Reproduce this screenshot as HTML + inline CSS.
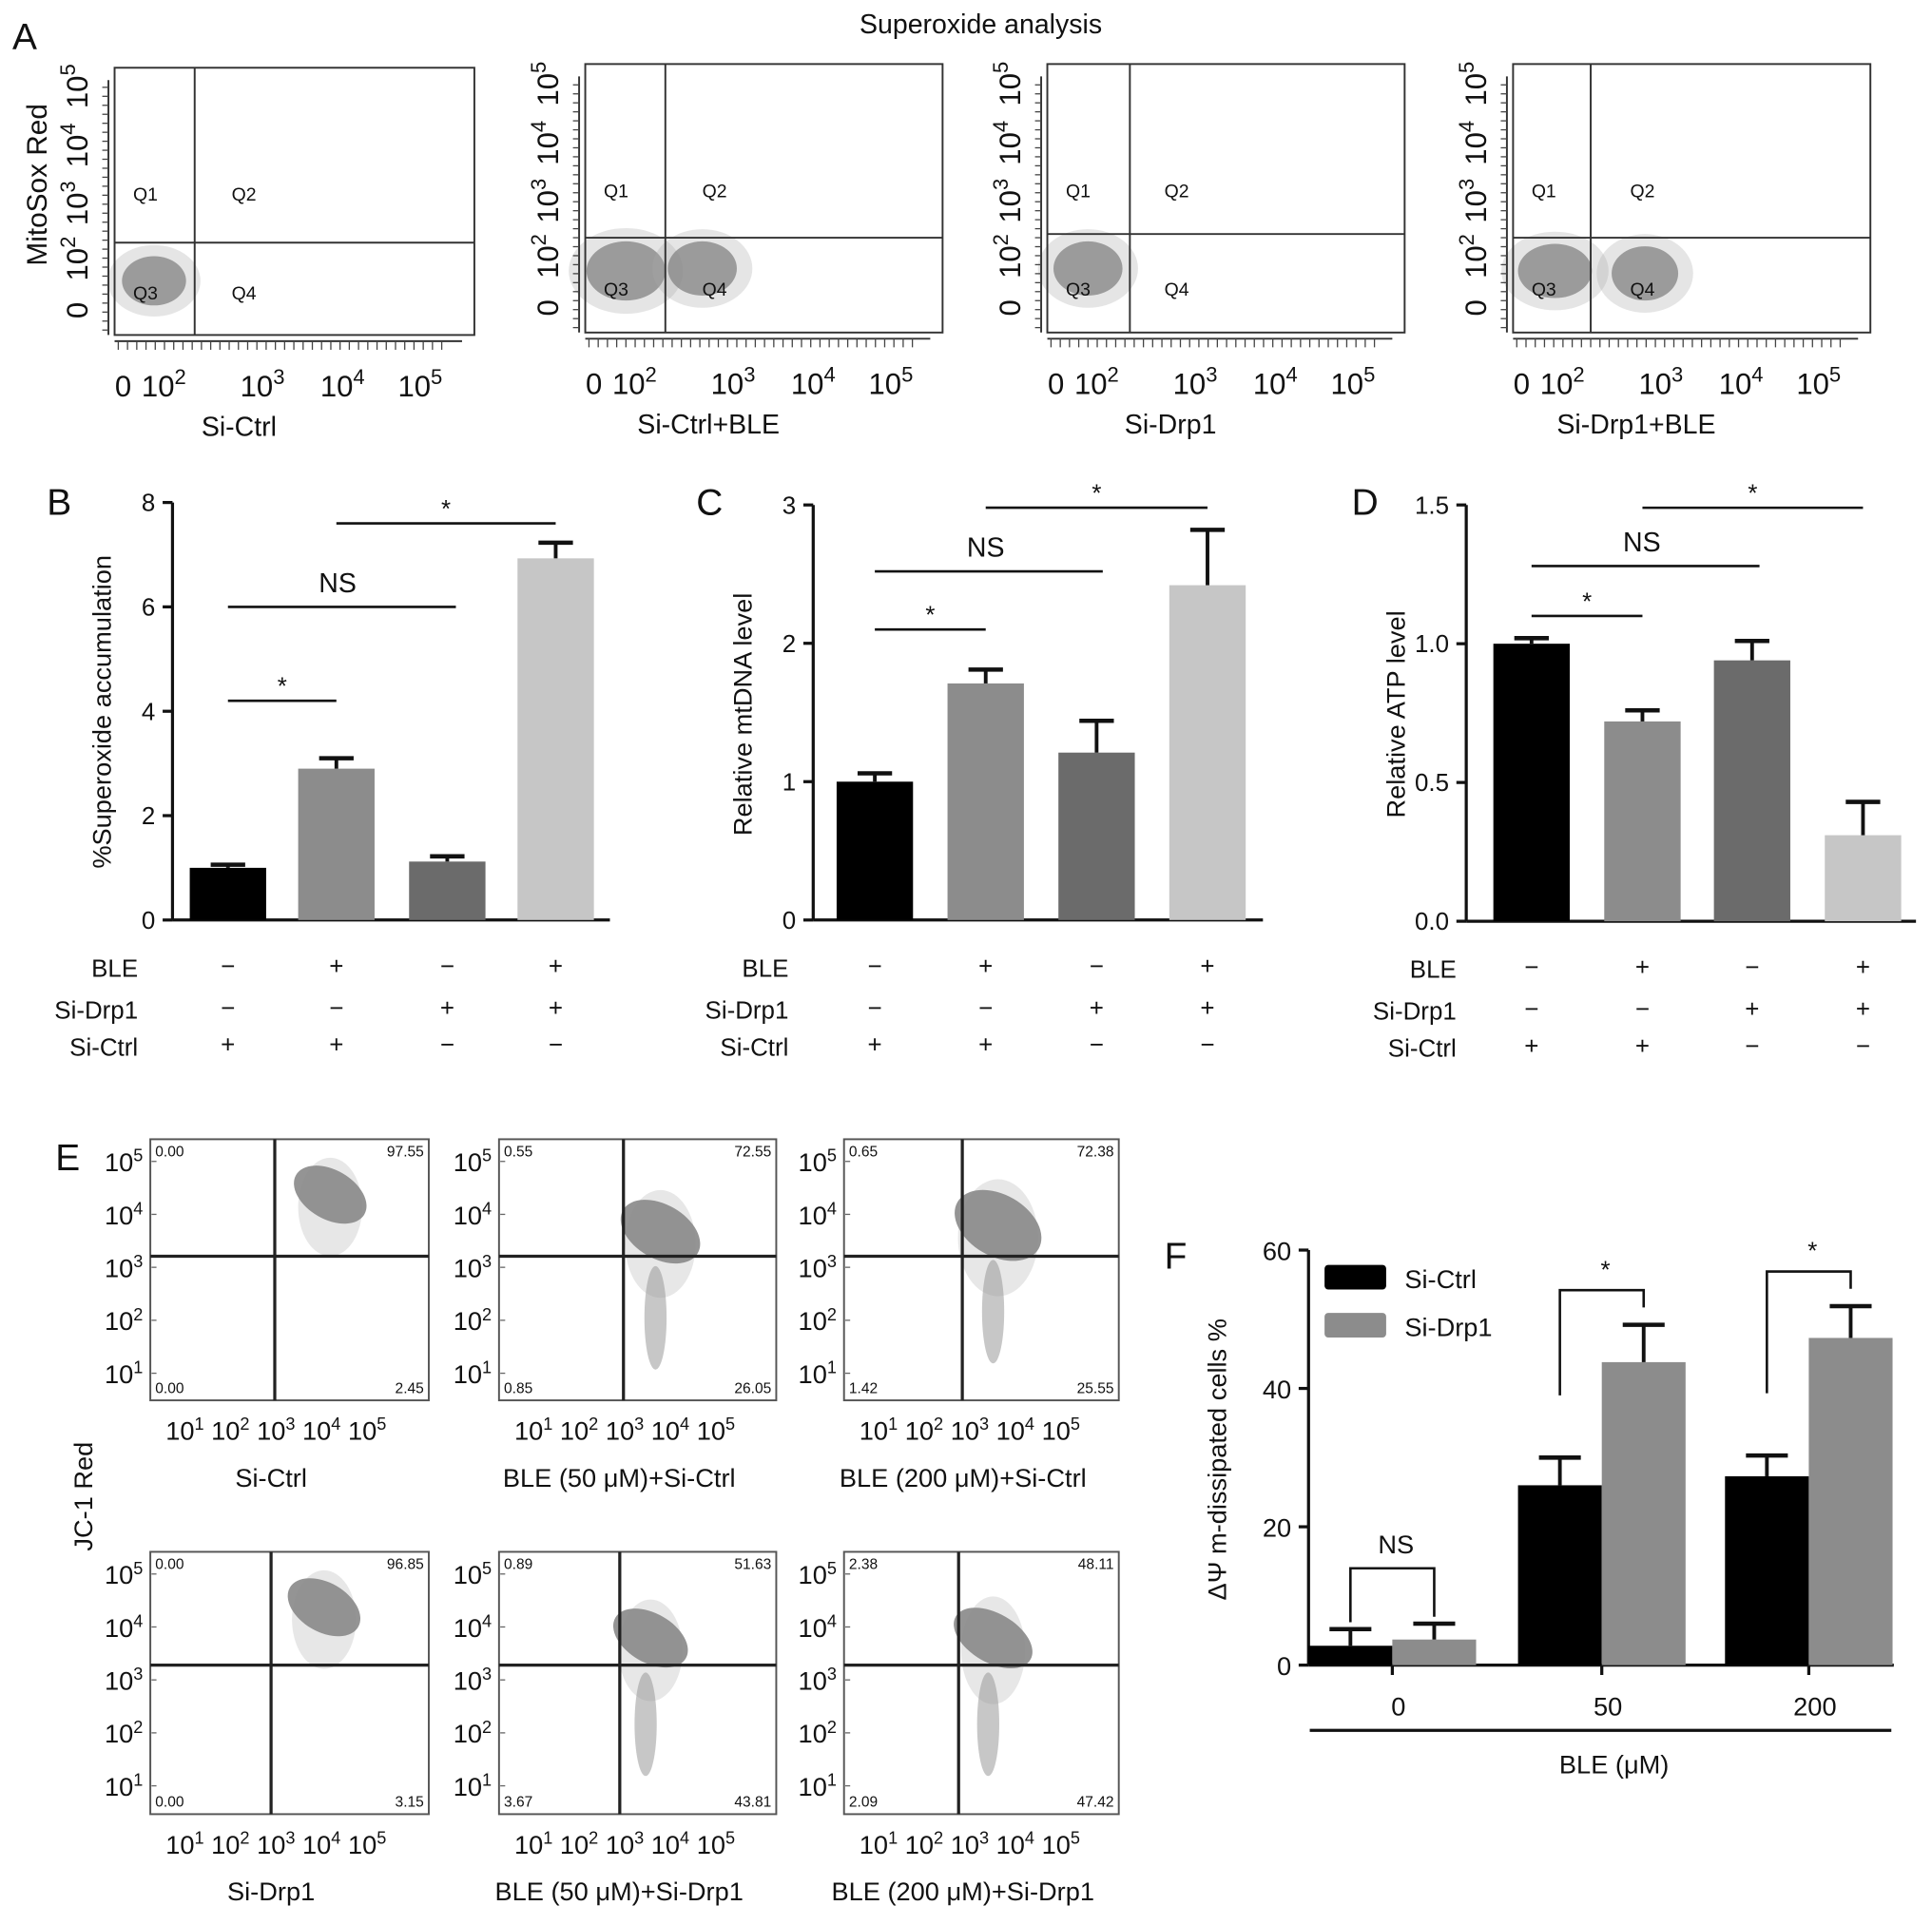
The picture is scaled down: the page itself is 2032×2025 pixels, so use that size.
<!DOCTYPE html>
<html><head><meta charset="utf-8"><style>
html,body{margin:0;padding:0;background:#fff}
svg{display:block}
text{font-family:"Liberation Sans",sans-serif;fill:#111}
</style></head><body>
<svg id="fig" width="2032" height="2025" viewBox="0 0 1568 1563" preserveAspectRatio="none" xmlns="http://www.w3.org/2000/svg">
<g id="root"></g>
</svg>
<script>
// ---------- Data ----------
const barLabelsBCD = ["Si-Ctrl","Si-Ctrl+BLE","Si-Drp1","Si-Drp1+BLE"];
const superoxideVals = [1.0, 2.9, 1.12, 6.93];
const superoxideErr = [0.06, 0.2, 0.1, 0.3];
const superoxideTicks = [0,2,4,6,8];
const mtdnaVals = [1.0, 1.71, 1.21, 2.42];
const mtdnaErr = [0.06, 0.1, 0.23, 0.4];
const mtdnaTicks = [0,1,2,3];
const atpVals = [1.0, 0.72, 0.94, 0.31];
const atpErr = [0.02, 0.04, 0.07, 0.12];
const atpTicks = [0.0,0.5,1.0,1.5];
const atpTickLabels = ["0.0","0.5","1.0","1.5"];
const bleSigns = ["−","+","−","+"];
const drpSigns = ["−","−","+","+"];
const ctrlSigns = ["+","+","−","−"];
const fCategories = ["0","50","200"];
const fCtrlVals = [2.8, 26, 27.3];
const fCtrlErr = [2.4, 4, 3];
const fDrpVals = [3.7, 43.8, 47.3];
const fDrpErr = [2.3, 5.4, 4.6];
const fTicks = [0,20,40,60];
const eRow1Titles = ["Si-Ctrl","BLE (50 μM)+Si-Ctrl","BLE (200 μM)+Si-Ctrl"];
const eRow2Titles = ["Si-Drp1","BLE (50 μM)+Si-Drp1","BLE (200 μM)+Si-Drp1"];
const eRow1Quads = [["0.00","97.55","0.00","2.45"],["0.55","72.55","0.85","26.05"],["0.65","72.38","1.42","25.55"]];
const eRow2Quads = [["0.00","96.85","0.00","3.15"],["0.89","51.63","3.67","43.81"],["2.38","48.11","2.09","47.42"]];
const aTitles = ["Si-Ctrl","Si-Ctrl+BLE","Si-Drp1","Si-Drp1+BLE"];

const NS = "http://www.w3.org/2000/svg";
const root = document.getElementById('root');
function el(tag, attrs, parent, txt){
  const e = document.createElementNS(NS, tag);
  for (const k in attrs) e.setAttribute(k, attrs[k]);
  if (txt !== undefined) e.textContent = txt;
  (parent||root).appendChild(e);
  return e;
}
function txt(x,y,s,size,parent,anchor,extra){
  const t = el('text',Object.assign({x:x,y:y,'font-size':size,'text-anchor':anchor||'middle'},extra||{}),parent);
  t.innerHTML = s;
  return t;
}
function line(x1,y1,x2,y2,w,parent,c){
  return el('line',{x1:x1,y1:y1,x2:x2,y2:y2,stroke:c||'#111','stroke-width':w||2},parent);
}
const sup = n => `10<tspan dy="-8" font-size="14">${n}</tspan>`;
const supA = n => `10<tspan dy="-10" font-size="17">${n}</tspan>`;

// title
let t0 = txt(796,27,"Superoxide analysis",22);


["A","B","C","D","E","F"].forEach((L,i)=>{
  const pos=[[10,40],[38,418],[565,418],[1097,418],[45,950],[945,1030]][i];
  const t = txt(pos[0],pos[1],L,30,root,'start');
  
  
});

// ---------- Panel A ----------
const aBoxes=[[93,55,385,272,158,197],[475,52,765,270,540,193],[850,52,1140,270,917,190],[1228,52,1518,270,1291,193]];
const aClouds=[[[125,228,26,20]],[[508,220,32,24],[570,218,28,22]],[[883,218,28,22]],[[1262,220,30,22],[1335,222,27,22]]];
aBoxes.forEach((b,i)=>{
  const g = el('g',{});
  
  
  const [x0,y0,x1,y1,gx,gy]=b;
  aClouds[i].forEach(c=>{
    el('ellipse',{cx:c[0],cy:c[1],rx:c[2]*1.45,ry:c[3]*1.45,fill:'#aaa',opacity:0.3},g);
    el('ellipse',{cx:c[0],cy:c[1],rx:c[2],ry:c[3],fill:'#888',opacity:0.8},g);
  });
  el('rect',{x:x0,y:y0,width:x1-x0,height:y1-y0,fill:'none',stroke:'#333','stroke-width':1.5},g);
  line(gx,y0,gx,y1,1.5,g,'#333'); line(x0,gy,x1,gy,1.5,g,'#333');
  line(x0-5,y0+10,x0-5,y1,1.5,g,'#333'); line(x0,y1+5,x1-10,y1+5,1.5,g,'#333');
  for(let k=0;k<28;k++){ const yy=y1-4-k*7.3; line(x0-10,yy,x0-5,yy,1,g,'#444'); }
  for(let k=0;k<36;k++){ const xx=x0+3+k*7.5; line(xx,y1+5,xx,y1+12,1,g,'#444'); }
  const lx = x0-22;
  const yl=[["0",y1-18],[supA(2),y1-60],[supA(3),y1-105],[supA(4),y1-152],[supA(5),y1-200]];
  yl.forEach(p=>{ txt(lx+2,p[1],p[0],24,g,'middle',{transform:`rotate(-90 ${lx} ${p[1]})`}); });
  const xl=[["0",x0+7],[supA(2),x0+40],[supA(3),x0+120],[supA(4),x0+185],[supA(5),x0+248]];
  xl.forEach(p=>txt(p[1],y1+50,p[0],24,g));
  txt((x0+x1)/2-45,y1+82,aTitles[i],22,g);
  [["Q1",x0+25,y0+108],["Q2",x0+105,y0+108],["Q3",x0+25,y0+188],["Q4",x0+105,y0+188]].forEach(q=>txt(q[1],q[2],q[0],15,g,'middle',{fill:'#444'}));
});
let ml = txt(38,150,"MitoSox Red",23,root,'middle',{transform:"rotate(-90 38 150)"});
 

// ---------- Bar charts B,C,D ----------
const barColors=["#000","#8c8c8c","#6b6b6b","#c6c6c6"];
function barChart(cfg){
  const g = el('g',{});
  
  
  const ys = v => cfg.y0 - (v/cfg.max)*(cfg.y0-cfg.yTop);
  line(cfg.ax,cfg.yTop,cfg.ax,cfg.y0,2.5,g);
  line(cfg.ax,cfg.y0,cfg.xEnd,cfg.y0,2.5,g);
  cfg.ticks.forEach((tv,i)=>{ const y=ys(tv); line(cfg.ax-8,y,cfg.ax,y,2.5,g); txt(cfg.ax-14,y+7,cfg.tickLabels?cfg.tickLabels[i]:String(tv),20,g,'end'); });
  txt(cfg.ax-50,cfg.yTop+170,cfg.ylabel,21,g,'middle',{transform:`rotate(-90 ${cfg.ax-50} ${cfg.yTop+170})`});
  cfg.vals.forEach((v,i)=>{
    const cx=cfg.cx[i], w=62;
    const r=el('rect',{x:cx-w/2,y:ys(v),width:w,height:cfg.y0-ys(v),fill:barColors[i]},g);
    
    
    const ye=ys(v+cfg.err[i]);
    line(cx,ys(v),cx,ye,3,g); line(cx-14,ye,cx+14,ye,3.5,g);
    txt(cx,cfg.y0+44,bleSigns[i],20,g);
    txt(cx,cfg.y0+78,drpSigns[i],20,g);
    txt(cx,cfg.y0+108,ctrlSigns[i],20,g);
  });
  txt(cfg.lx,cfg.y0+46,"BLE",20,g,'end');
  txt(cfg.lx,cfg.y0+80,"Si-Drp1",20,g,'end');
  txt(cfg.lx,cfg.y0+110,"Si-Ctrl",20,g,'end');
  cfg.sig.forEach(s=>{ line(cfg.cx[s[0]],ys(s[2]),cfg.cx[s[1]]+(s[4]||0),ys(s[2]),2,g); txt((cfg.cx[s[0]]+cfg.cx[s[1]])/2,ys(s[2])-(s[3]==="*"?5:12),s[3],s[3]==="*"?20:22,g); });
}
barChart({name:'superoxide-chart',ax:140,y0:747,yTop:408,max:8,xEnd:495,ticks:superoxideTicks,vals:superoxideVals,err:superoxideErr,cx:[185,273,363,451],ylabel:"%Superoxide accumulation",lx:112,
  sig:[[0,1,4.2,"*"],[0,2,6.0,"NS",7],[1,3,7.6,"*"]]});
barChart({name:'mtdna-chart',ax:660,y0:747,yTop:410,max:3,xEnd:1025,ticks:mtdnaTicks,vals:mtdnaVals,err:mtdnaErr,cx:[710,800,890,980],ylabel:"Relative mtDNA level",lx:640,
  sig:[[0,1,2.1,"*"],[0,2,2.52,"NS",5],[1,3,2.98,"*"]]});
barChart({name:'atp-chart',ax:1190,y0:748,yTop:410,max:1.5,xEnd:1555,ticks:atpTicks,tickLabels:atpTickLabels,vals:atpVals,err:atpErr,cx:[1243,1333,1422,1512],ylabel:"Relative ATP level",lx:1182,
  sig:[[0,1,1.1,"*"],[0,2,1.28,"NS",6],[1,3,1.49,"*"]]});

// ---------- Panel E ----------
function ePlot(x0,y0,x1,y1,gx,gy,quads,title,cloud,name){
  const g = el('g',{});
  
  
  el('ellipse',{cx:cloud[0],cy:cloud[1]+10,rx:cloud[2]*1.3,ry:cloud[3]*1.25,fill:'#bbb',opacity:0.35},g);
  el('ellipse',{cx:cloud[0],cy:cloud[1],rx:cloud[2],ry:cloud[3],fill:'#888',opacity:0.9,transform:`rotate(-60 ${cloud[0]} ${cloud[1]})`},g);
  if(cloud[4]) el('ellipse',{cx:cloud[0]-4,cy:cloud[1]+70,rx:9,ry:42,fill:'#999',opacity:0.55},g);
  el('rect',{x:x0,y:y0,width:x1-x0,height:y1-y0,fill:'none',stroke:'#555','stroke-width':1.5},g);
  line(gx,y0,gx,y1,2.5,g,'#222'); line(x0,gy,x1,gy,2.5,g,'#222');
  txt(x0+4,y0+14,quads[0],12,g,'start'); txt(x1-4,y0+14,quads[1],12,g,'end');
  txt(x0+4,y1-6,quads[2],12,g,'start'); txt(x1-4,y1-6,quads[3],12,g,'end');
  [5,4,3,2,1].forEach((n,k)=>{ const y=y0+18+k*43; txt(x0-6,y+8,sup(n),21,g,'end'); line(x0+1,y,x0+5,y,1,g,'#666'); });
  [1,2,3,4,5].forEach((n,k)=>txt(x0+28+k*37,y1+32,sup(n),21,g));
  txt((x0+x1)/2-15,y1+70,title,21,g);
}
const eX=[[122,348,223],[405,630,506],[685,908,781]];
eX.forEach((c,i)=>{
  ePlot(c[0],925,c[1],1137,c[2],1020,eRow1Quads[i],eRow1Titles[i],[[268,970,20,32],[536,1000,22,35],[810,995,25,38]][i].concat(i>0?[1]:[]),'jc1-plot-row1-'+(i+1));
  ePlot(c[0],1260,c[1],1473,c[2]-3,1352,eRow2Quads[i],eRow2Titles[i],[[263,1305,20,32],[528,1330,20,33],[806,1330,20,35]][i].concat(i>0?[1]:[]),'jc1-plot-row2-'+(i+1));
});
let jl = txt(75,1215,"JC-1 Red",21,root,'middle',{transform:"rotate(-90 75 1215)"});
 

// ---------- Panel F ----------
(function(){
  const g = el('g',{});
  
  
  const ax=1062, y0=1352, yTop=1015, max=60;
  const ys=v=>y0-(v/max)*(y0-yTop);
  line(ax,yTop,ax,y0,2.5,g); line(ax,y0,1537,y0,2.5,g);
  fTicks.forEach(tv=>{ const y=ys(tv); line(ax-8,y,ax,y,2.5,g); txt(ax-14,y+8,String(tv),21,g,'end'); });
  txt(995,1185,"ΔΨ m-dissipated cells %",21,g,'middle',{transform:"rotate(-90 995 1185)"});
  const centers=[1130,1300,1468], w=68;
  fCategories.forEach((c,i)=>{
    const cx=centers[i];
    const r1=el('rect',{x:cx-w,y:ys(fCtrlVals[i]),width:w,height:y0-ys(fCtrlVals[i]),fill:'#000'},g);
     
    const r2=el('rect',{x:cx,y:ys(fDrpVals[i]),width:w,height:y0-ys(fDrpVals[i]),fill:'#8c8c8c'},g);
     
    [[cx-w/2,fCtrlVals[i],fCtrlErr[i]],[cx+w/2,fDrpVals[i],fDrpErr[i]]].forEach(e=>{
      const ye=ys(e[1]+e[2]); line(e[0],ys(e[1]),e[0],ye,3,g); line(e[0]-17,ye,e[0]+17,ye,3.5,g);
    });
    line(cx,y0,cx,y0+8,2.5,g);
    txt(cx+5,y0+41,c,21,g);
    const top=Math.max(fCtrlVals[i]+fCtrlErr[i],fDrpVals[i]+fDrpErr[i]);
    const yb=ys(top+ (i===0?8:5)), lBot=ys(fCtrlVals[i]+fCtrlErr[i]+ (i===0?1:9)), rBot=ys(fDrpVals[i]+fDrpErr[i]+ (i===0?1:2.5));
    el('polyline',{points:`${cx-w/2},${lBot} ${cx-w/2},${yb} ${cx+w/2},${yb} ${cx+w/2},${rBot}`,fill:'none',stroke:'#111','stroke-width':2},g);
    txt(cx+3,yb-(i===0?12:10),i===0?"NS":"*",i===0?21:20,g);
  });
  line(1063,1405,1535,1405,2.5,g);
  txt(1310,1440,"BLE (μM)",21,g);
  const l1=el('rect',{x:1075,y:1027,width:50,height:20,rx:3,fill:'#000'},g);
   
  txt(1140,1046,"Si-Ctrl",21,g,'start');
  const l2=el('rect',{x:1075,y:1066,width:50,height:20,rx:3,fill:'#8c8c8c'},g);
   
  txt(1140,1085,"Si-Drp1",21,g,'start');
})();
</script>
</body></html>
